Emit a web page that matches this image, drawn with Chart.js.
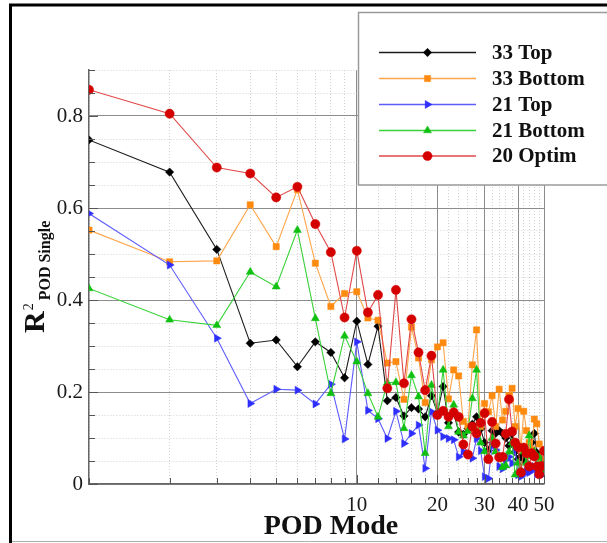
<!DOCTYPE html>
<html>
<head>
<meta charset="utf-8">
<script src="https://cdn.jsdelivr.net/npm/chart.js@4/dist/chart.umd.min.js"></script>
<style>
  html, body { margin: 0; padding: 0; background: #fff; }
  #wrap { position: relative; width: 607px; height: 543px; }
  canvas { display: block; }
</style>
</head>
<body>
<div id="wrap"><canvas id="chart" width="607" height="543"></canvas></div>
<script>
// POD mode numbers (x axis, logarithmic)
const modes = [1, 2, 3, 4, 5, 6, 7, 8, 9, 10, 11, 12, 13, 14, 15, 16, 17, 18, 19, 20,
  21, 22, 23, 24, 25, 26, 27, 28, 29, 30, 31, 32, 33, 34, 35, 36, 37, 38, 39, 40,
  41, 42, 43, 44, 45, 46, 47, 48, 49, 50];

// R^2 of the single-mode reconstruction, one list per case
const top33 = [0.748, 0.678, 0.510, 0.306, 0.313, 0.255, 0.309, 0.286, 0.231, 0.354,
  0.260, 0.343, 0.181, 0.188, 0.148, 0.166, 0.163, 0.146, 0.192, 0.155,
  0.212, 0.133, 0.155, 0.113, 0.108, 0.120, 0.130, 0.146, 0.120, 0.090,
  0.073, 0.116, 0.110, 0.116, 0.110, 0.100, 0.083, 0.109, 0.070, 0.054,
  0.060, 0.054, 0.046, 0.068, 0.090, 0.110, 0.068, 0.058, 0.050, 0.035];
const bottom33 = [0.552, 0.483, 0.485, 0.607, 0.516, 0.640, 0.480, 0.386, 0.414, 0.418,
  0.361, 0.356, 0.263, 0.266, 0.184, 0.341, 0.274, 0.177, 0.270, 0.298,
  0.307, 0.185, 0.248, 0.235, 0.136, 0.125, 0.259, 0.335, 0.125, 0.175,
  0.157, 0.192, 0.125, 0.206, 0.139, 0.158, 0.192, 0.208, 0.125, 0.164,
  0.074, 0.158, 0.116, 0.090, 0.075, 0.141, 0.131, 0.087, 0.053, 0.043];
const top21 = [0.588, 0.476, 0.317, 0.175, 0.206, 0.204, 0.174, 0.217, 0.098, 0.309,
  0.160, 0.142, 0.099, 0.158, 0.088, 0.110, 0.128, 0.034, 0.157, 0.117,
  0.103, 0.099, 0.096, 0.059, 0.070, 0.067, 0.056, 0.099, 0.072, 0.016,
  0.012, 0.083, 0.074, 0.038, 0.033, 0.052, 0.059, 0.045, 0.074, 0.020,
  0.016, 0.022, 0.027, 0.025, 0.030, 0.038, 0.022, 0.023, 0.030, 0.022];
const bottom21 = [0.425, 0.357, 0.345, 0.461, 0.429, 0.552, 0.360, 0.197, 0.322, 0.266,
  0.197, 0.146, 0.220, 0.221, 0.121, 0.236, 0.190, 0.067, 0.215, 0.150,
  0.248, 0.125, 0.172, 0.113, 0.105, 0.115, 0.186, 0.248, 0.090, 0.071,
  0.058, 0.100, 0.070, 0.060, 0.036, 0.040, 0.070, 0.090, 0.020, 0.046,
  0.030, 0.070, 0.046, 0.105, 0.060, 0.070, 0.040, 0.058, 0.046, 0.030];
const optim20 = [0.857, 0.805, 0.688, 0.675, 0.623, 0.646, 0.565, 0.504, 0.362, 0.507,
  0.373, 0.411, 0.208, 0.422, 0.219, 0.358, 0.286, 0.204, 0.279, 0.150,
  0.159, 0.146, 0.156, 0.146, 0.086, 0.064, 0.125, 0.110, 0.133, 0.154,
  0.054, 0.135, 0.088, 0.058, 0.059, 0.109, 0.184, 0.114, 0.090, 0.080,
  0.025, 0.079, 0.067, 0.038, 0.067, 0.060, 0.038, 0.021, 0.039, 0.072];

const seriesNames = ['33 Top', '33 Bottom', '21 Top', '21 Bottom', '20 Optim'];

// Axis ticks: every tick gets a grid line, only the labelled ones are solid
const xTickValues = [1, 2, 3, 4, 5, 6, 7, 8, 9, 10, 12, 14, 16, 18, 20, 22, 24, 26, 28, 30,
  32, 34, 36, 38, 40, 42, 44, 46, 48, 50];
const xTickLabels = [10, 20, 30, 40, 50];
const yTickValues = [0, 0.05, 0.1, 0.15, 0.2, 0.25, 0.3, 0.35, 0.4, 0.45, 0.5, 0.55,
  0.6, 0.65, 0.7, 0.75, 0.8, 0.85, 0.9];
const yTickLabels = [0, 0.2, 0.4, 0.6, 0.8];

const SERIF = "'Liberation Serif', 'Times New Roman', 'DejaVu Serif', serif";

const styles = [
  { line: '#1c1c1c', fill: '#000000', point: 'rectRot', radius: 4.2, rotation: 0 },
  { line: '#ffa54a', fill: '#ff8a10', point: 'rect', radius: 4.4, rotation: 0 },
  { line: '#5c5cff', fill: '#2e2eff', point: 'triangle', radius: 4.6, rotation: 90 },
  { line: '#3ad23a', fill: '#10c010', point: 'triangle', radius: 4.6, rotation: 0 },
  { line: '#e04848', fill: '#d40000', point: 'circle', radius: 4.6, rotation: 0 }
];
const seriesData = [top33, bottom33, top21, bottom21, optim20];

const isNear = (a, list) => list.some(v => Math.abs(v - a) < 1e-6);

const datasets = seriesData.map((vals, i) => ({
  label: seriesNames[i],
  data: modes.map((m, k) => ({ x: m, y: vals[k] })),
  borderColor: styles[i].line,
  borderWidth: 1.1,
  backgroundColor: styles[i].fill,
  pointBackgroundColor: styles[i].fill,
  pointBorderColor: styles[i].fill,
  pointBorderWidth: 0.5,
  pointStyle: styles[i].point,
  pointRadius: styles[i].radius,
  pointRotation: styles[i].rotation,
  tension: 0,
  fill: false,
  order: 4 - i // later cases are drawn on top
}));

function drawMarker(ctx, st, x, y) {
  if (Chart.helpers && Chart.helpers.drawPoint) {
    ctx.save();
    ctx.fillStyle = st.fill;
    ctx.strokeStyle = st.fill;
    ctx.lineWidth = 0.5;
    Chart.helpers.drawPoint(ctx, { pointStyle: st.point, radius: st.radius, rotation: st.rotation, borderWidth: 0.5 }, x, y);
    ctx.restore();
  }
}

const decorations = {
  id: 'decorations',
  afterDraw(chart) {
    const ctx = chart.ctx;
    const xs = chart.scales.x, ys = chart.scales.y;
    const area = chart.chartArea;

    // inward tick marks
    ctx.save();
    ctx.strokeStyle = '#555';
    ctx.lineWidth = 1;
    ctx.beginPath();
    xTickValues.forEach(v => {
      const px = Math.round(xs.getPixelForValue(v)) + 0.5;
      const len = isNear(v, xTickLabels) ? 9 : 6;
      ctx.moveTo(px, area.bottom);
      ctx.lineTo(px, area.bottom - len);
    });
    yTickValues.forEach(v => {
      const py = Math.round(ys.getPixelForValue(v)) + 0.5;
      const len = isNear(v, yTickLabels) ? 9 : 6;
      ctx.moveTo(area.left, py);
      ctx.lineTo(area.left + len, py);
    });
    ctx.stroke();
    ctx.restore();

    // y axis title: R^2 with subscript
    ctx.save();
    ctx.translate(44, 333);
    ctx.rotate(-Math.PI / 2);
    ctx.fillStyle = '#111';
    ctx.textBaseline = 'alphabetic';
    ctx.textAlign = 'left';
    ctx.font = 'bold 30px ' + SERIF;
    ctx.fillText('R', 0, 0);
    const rw = ctx.measureText('R').width;
    ctx.font = '14px ' + SERIF;
    ctx.fillText('2', rw + 1, -11);
    ctx.font = 'bold 16px ' + SERIF;
    ctx.fillText('POD Single', rw + 11, 6);
    ctx.restore();

    // x axis title
    ctx.save();
    ctx.fillStyle = '#111';
    ctx.font = 'bold 28px ' + SERIF;
    ctx.textAlign = 'center';
    ctx.textBaseline = 'alphabetic';
    ctx.fillText('POD Mode', 331, 534);
    ctx.restore();

    // legend
    ctx.save();
    ctx.fillStyle = '#fff';
    ctx.fillRect(358, 12, 260, 173);
    ctx.strokeStyle = '#9a9a9a';
    ctx.lineWidth = 1.5;
    ctx.strokeRect(358.5, 12.5, 260, 172.5);
    const rows = [52.5, 78.5, 104.5, 130.5, 156];
    rows.forEach((ry, i) => {
      const st = styles[i];
      ctx.strokeStyle = st.line;
      ctx.lineWidth = 1.3;
      ctx.beginPath();
      ctx.moveTo(379, ry);
      ctx.lineTo(476, ry);
      ctx.stroke();
      drawMarker(ctx, st, 427.5, ry);
      ctx.fillStyle = '#111';
      ctx.font = 'bold 21px ' + SERIF;
      ctx.textAlign = 'left';
      ctx.textBaseline = 'middle';
      ctx.fillText(seriesNames[i], 492, ry + 1);
    });
    ctx.restore();

    // outer frame
    ctx.save();
    ctx.strokeStyle = '#000';
    ctx.lineWidth = 3;
    ctx.beginPath();
    ctx.moveTo(10.5, 543);
    ctx.lineTo(10.5, 5);
    ctx.lineTo(607, 5);
    ctx.stroke();
    ctx.strokeStyle = '#b0b0b0';
    ctx.lineWidth = 1;
    ctx.beginPath();
    ctx.moveTo(12, 541.5);
    ctx.lineTo(607, 541.5);
    ctx.stroke();
    ctx.restore();
  }
};

new Chart(document.getElementById('chart'), {
  type: 'line',
  data: { datasets },
  plugins: [decorations],
  options: {
    responsive: false,
    animation: false,
    devicePixelRatio: 1,
    layout: { padding: { left: 0, top: 70, right: 63, bottom: 0 } },
    plugins: { legend: { display: false }, tooltip: { enabled: false }, title: { display: false } },
    scales: {
      x: {
        type: 'logarithmic',
        min: 1,
        max: 50,
        afterBuildTicks: (scale) => { scale.ticks = xTickValues.map(v => ({ value: v })); },
        afterFit: (scale) => { scale.height = 59; },
        ticks: {
          autoSkip: false,
          maxRotation: 0,
          padding: 9,
          color: '#1a1a1a',
          font: { family: SERIF, size: 21 },
          callback: (v) => isNear(v, xTickLabels) ? String(v) : ''
        },
        grid: {
          drawTicks: false,
          color: (c) => (c.tick && isNear(c.tick.value, xTickLabels)) ? '#8c8c8c' : '#d2d2d2',
          lineWidth: 1
        },
        border: {
          display: true,
          color: '#666',
          width: 1.5,
          dash: (c) => (c.tick && !isNear(c.tick.value, xTickLabels)) ? [1, 2] : []
        }
      },
      y: {
        type: 'linear',
        min: 0,
        max: 0.9,
        afterBuildTicks: (scale) => { scale.ticks = yTickValues.map(v => ({ value: v })); },
        afterFit: (scale) => { scale.width = 89; },
        ticks: {
          autoSkip: false,
          padding: 6,
          color: '#1a1a1a',
          font: { family: SERIF, size: 21 },
          callback: (v) => isNear(v, yTickLabels) ? String(Math.round(v * 10) / 10) : ''
        },
        grid: {
          drawTicks: false,
          color: (c) => (c.tick && isNear(c.tick.value, yTickLabels)) ? '#8c8c8c' : '#d2d2d2',
          lineWidth: 1
        },
        border: {
          display: true,
          color: '#666',
          width: 1.5,
          dash: (c) => (c.tick && !isNear(c.tick.value, yTickLabels)) ? [1, 2] : []
        }
      }
    }
  }
});
</script>
</body>
</html>
